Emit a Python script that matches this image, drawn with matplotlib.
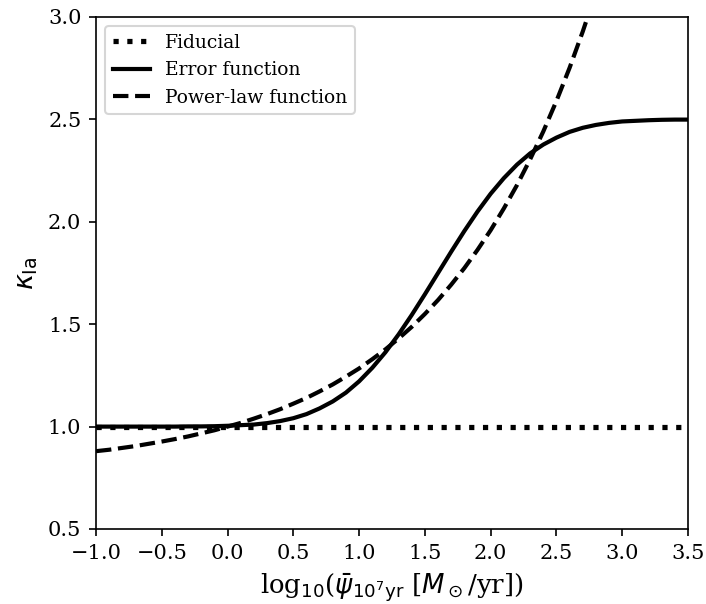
import numpy as np
import matplotlib
matplotlib.use("Agg")
import matplotlib.pyplot as plt

plt.rcParams["font.family"] = "serif"
plt.rcParams["font.serif"] = ["DejaVu Serif"]
plt.rcParams["mathtext.fontset"] = "dejavusans"

# log10 SFR grid
log_sfr = [-1.0, -0.9, -0.8, -0.7, -0.6, -0.5, -0.4, -0.3, -0.2, -0.1,
           0.0, 0.1, 0.2, 0.3, 0.4, 0.5, 0.6, 0.7, 0.8, 0.9,
           1.0, 1.1, 1.2, 1.3, 1.4, 1.5, 1.6, 1.7, 1.8, 1.9,
           2.0, 2.1, 2.2, 2.3, 2.4, 2.5, 2.6, 2.7, 2.8, 2.9,
           3.0, 3.1, 3.2, 3.3, 3.4, 3.5]

kappa_fiducial = [1.0] * len(log_sfr)

kappa_erf = [1.000, 1.000, 1.000, 1.000, 1.000, 1.000, 1.000, 1.001, 1.001, 1.002,
             1.004, 1.007, 1.010, 1.017, 1.027, 1.041, 1.061, 1.089, 1.123, 1.166,
             1.221, 1.287, 1.363, 1.450, 1.545, 1.646, 1.750, 1.854, 1.955, 2.050,
             2.137, 2.213, 2.279, 2.334, 2.377, 2.411, 2.439, 2.459, 2.473, 2.483,
             2.490, 2.493, 2.496, 2.498, 2.499, 2.499]

kappa_pow = [0.880, 0.887, 0.896, 0.905, 0.916, 0.927, 0.939, 0.952, 0.967, 0.982,
             1.000, 1.018, 1.039, 1.061, 1.085, 1.112, 1.140, 1.172, 1.206, 1.244,
             1.284, 1.329, 1.377, 1.430, 1.487, 1.550, 1.618, 1.693, 1.774, 1.863,
             1.959, 2.065, 2.179, 2.305, 2.441, 2.590, 2.752, 2.929, 3.121, 3.331,
             3.560, 3.810, 4.083, 4.379, 4.703, 5.055]

fig = plt.figure(figsize=(707 / 150, 604 / 150), dpi=150)
ax = fig.add_axes([96 / 707, 1 - 529 / 604, 592 / 707, 512 / 604])

ax.plot(log_sfr, kappa_fiducial, color="k", ls=":", lw=2.5, label="Fiducial")
ax.plot(log_sfr, kappa_erf, color="k", ls="-", lw=2, label="Error function")
ax.plot(log_sfr, kappa_pow, color="k", ls="--", lw=2, label="Power-law function")

ax.set_xlim(-1.0, 3.5)
ax.set_ylim(0.5, 3.0)
ax.set_xticks(np.arange(-1.0, 3.51, 0.5))
ax.set_yticks(np.arange(0.5, 3.01, 0.5))
ax.tick_params(labelsize=10)

ax.set_xlabel(r"log$_{10}$($\bar{\psi}_{10^7{\rm yr}}$ [$M_\odot$/yr])", fontsize=12.5)
ax.set_ylabel(r"$\kappa_{\rm Ia}$", fontsize=13)
ax.legend(loc="upper left", fontsize=9)

fig.savefig("out.png", dpi=150)
